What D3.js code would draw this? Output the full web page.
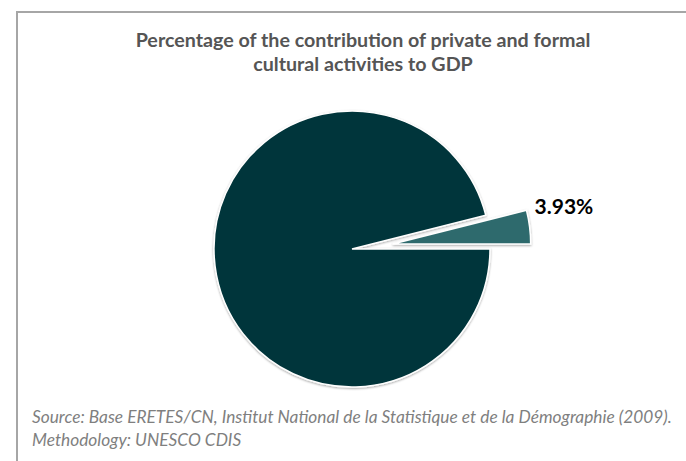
<!DOCTYPE html>
<html><head><meta charset="utf-8">
<script src="https://cdn.jsdelivr.net/npm/d3@7"></script>
<style>body{margin:0;background:#fff}svg{display:block}</style>
</head><body>
<script>
const categories = ["Other GDP", "Private and formal cultural activities"];
const values = [96.07, 3.93];
const labels = ["", "3.93%"];
const titleLines = ["Percentage of the contribution of private and formal", "cultural activities to GDP"];
const sourceLines = ["Source: Base ERETES/CN, Institut National de la Statistique et de la Démographie (2009).", "Methodology: UNESCO CDIS"];
const colors = ["#03363b", "#2f6b6d"];

const W = 686, H = 461;
const FONT = "Lato, 'Open Sans', sans-serif";
const svg = d3.select("body").append("svg").attr("width", W).attr("height", H);

const defs = svg.append("defs");
const f = defs.append("filter").attr("id","sh").attr("x","-20%").attr("y","-20%").attr("width","140%").attr("height","140%");
f.append("feDropShadow").attr("dx",0).attr("dy",1).attr("stdDeviation",1.2).attr("flood-color","#000").attr("flood-opacity",0.35);

// frame
svg.append("path").attr("d", `M17,${H} L17,12 L${W},12`).attr("fill","none").attr("stroke","#a6a6a6").attr("stroke-width",2);

const title = svg.append("g").selectAll("text").data(titleLines).join("text")
  .attr("x", 363).attr("y", (d,i)=>47 + i*24)
  .attr("text-anchor","middle").attr("font-family",FONT)
  .attr("font-weight","bold").attr("font-size",18).attr("fill","#555555").text(d=>d);
{
  const w = title.node().getComputedTextLength();
  title.attr("font-size", 18 * 455 / w);
}

const cx = 352, cy = 249, R = 138;
const pie = d3.pie().sort(null).value(d=>d).startAngle(Math.PI/2).endAngle(Math.PI/2 + 2*Math.PI);
const arcs = pie(values);
const arc = d3.arc().innerRadius(0).outerRadius(R);
const explode = [0, 41];

const g = svg.append("g").attr("transform", `translate(${cx},${cy})`);
g.selectAll("path").data(arcs).join("path")
  .attr("transform", (d,i)=>{
    const a = (d.startAngle + d.endAngle)/2;
    return `translate(${explode[i]*Math.sin(a)},${-explode[i]*Math.cos(a)})`;
  })
  .attr("d", arc).attr("fill", (d,i)=>colors[i])
  .attr("stroke","#fff").attr("stroke-width",1.5)
  .attr("filter","url(#sh)");

g.selectAll("text.lbl").data(arcs).join("text").attr("class","lbl")
  .attr("x", (d,i)=>{ const a=(d.startAngle+d.endAngle)/2; return (R+explode[i]+5)*Math.sin(a) ; })
  .attr("y", (d,i)=>{ const a=(d.startAngle+d.endAngle)/2; return -(R+explode[i]+5)*Math.cos(a) - 12; })
  .attr("font-family",FONT).attr("font-weight","bold")
  .attr("font-size",21).attr("fill","#000").text((d,i)=>labels[i]);

const src = svg.append("g").selectAll("text").data(sourceLines).join("text")
  .attr("x", 32).attr("y", (d,i)=>423 + i*23)
  .attr("font-family",FONT).attr("font-style","italic")
  .attr("font-size",16).attr("fill","#7f7f7f").text(d=>d);
{
  const w = src.node().getComputedTextLength();
  src.attr("font-size", 16 * 640 / w);
}
</script>
</body></html>
